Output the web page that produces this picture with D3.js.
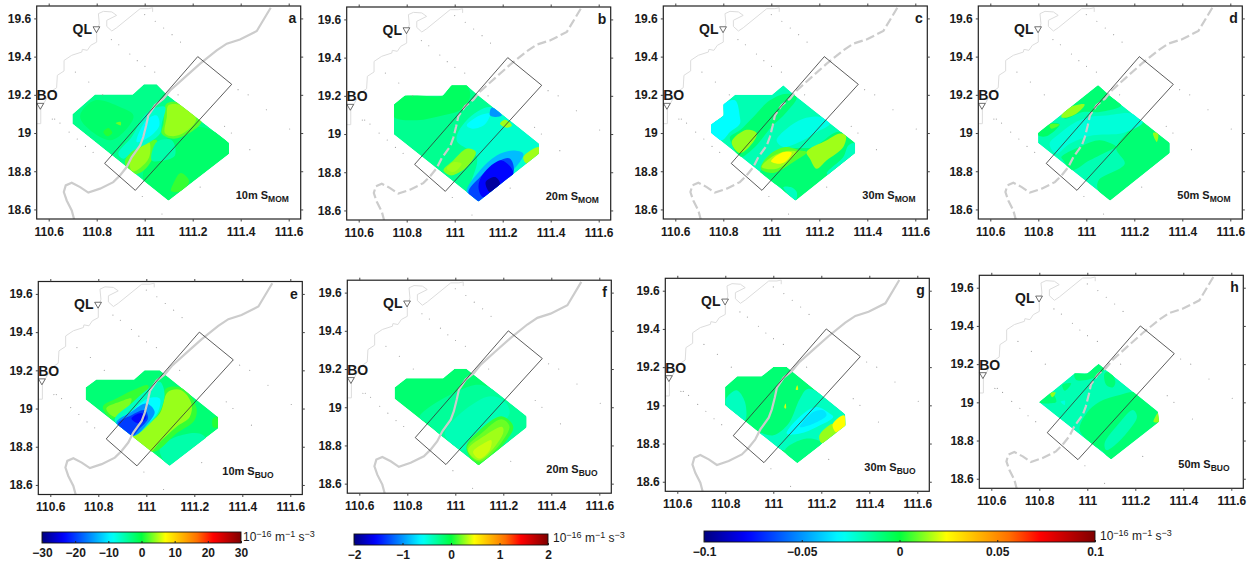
<!DOCTYPE html>
<html>
<head>
<meta charset="utf-8">
<script src="https://cdn.jsdelivr.net/npm/d3@7"></script>
<style>
  html, body { margin: 0; padding: 0; background: #fff; }
  text { font-family: "Liberation Sans", Arial, sans-serif; fill: #1a1a1a; }
</style>
</head>
<body>
<div id="chart"></div>
<script>
// map ticks
var lonTicks = [110.6, 110.8, 111, 111.2, 111.4, 111.6];
var latTicks = [18.6, 18.8, 19, 19.2, 19.4, 19.6];

// colour bar ticks, one list per bar
var barTicks1 = [-30, -20, -10, 0, 10, 20, 30];
var barTicks2 = [-2, -1, 0, 1, 2];
var barTicks3 = [-0.1, -0.05, 0, 0.05, 0.1];

// shared map features, lon / lat
var thickCoast = [[111.525,19.656],[111.467,19.534],[111.397,19.49],[111.342,19.468],[111.3,19.433],[111.231,19.363],[111.168,19.293],[111.106,19.223],[111.078,19.18],[111.043,19.145],[111.015,19.092],[111.006,19.04],[110.994,18.979],[110.981,18.935],[110.946,18.874],[110.925,18.822],[110.897,18.778],[110.869,18.743],[110.814,18.709],[110.765,18.688],[110.731,18.717],[110.696,18.74],[110.671,18.726],[110.663,18.691],[110.675,18.647],[110.696,18.595],[110.706,18.548]];
var thinCoast = [[110.547,19.049],[110.567,19.049],[110.567,19.127],[110.606,19.215],[110.633,19.237],[110.636,19.302],[110.664,19.325],[110.664,19.38],[110.696,19.407],[110.738,19.424],[110.74,19.438],[110.761,19.433],[110.775,19.459],[110.8,19.476],[110.8,19.529],[110.811,19.572],[110.807,19.625],[110.828,19.637],[110.863,19.634],[110.883,19.616],[110.842,19.59],[110.842,19.558],[110.863,19.534],[110.883,19.551],[110.981,19.651],[111.015,19.651],[111.033,19.656],[111.033,19.634]];
var boxCorners = [[111.221,19.4],[111.3625,19.255],[110.961,18.7],[110.833,18.841]];
var gridDots = [[111,19.62],[111.044,19.585],[111.079,19.55],[111.114,19.515],[111.149,19.476],[110.861,19.489],[110.892,19.462],[110.938,19.414],[110.969,19.379],[111.001,19.349],[111.042,19.319],[110.711,19.319],[110.767,19.267],[110.825,19.2],[111.139,19.2],[111.389,19.227],[111.431,19.2],[111.507,19.122],[110.615,19.073],[110.625,19.073],[110.647,19.052],[110.685,19.005],[110.719,18.969],[110.753,18.93],[110.785,18.899],[111.333,19.035],[111.361,19],[111.438,18.913],[111.604,19.021],[110.99,18.668],[111.072,18.576],[111.231,18.717]];
var stations = [["QL",110.799,19.546],["BO",110.565,19.145]];

// sampled area of each panel, lon / lat
var footA = [[110.699,19.098],[110.793,19.202],[110.95,19.202],[110.997,19.255],[111.05,19.255],[111.092,19.202],[111.351,18.949],[111.351,18.892],[111.099,18.647],[110.699,19.049]];
var footB = [[110.747,19.155],[110.793,19.202],[110.95,19.202],[110.987,19.255],[111.05,19.255],[111.099,19.202],[111.351,18.949],[111.351,18.897],[111.099,18.647],[110.747,18.997]];
var footC = [[110.749,19.045],[110.8,19.092],[110.8,19.15],[110.849,19.201],[111.003,19.201],[111.05,19.25],[111.099,19.197],[111.349,18.948],[111.349,18.895],[111.101,18.647],[110.749,19]];
var footD = [[110.799,19],[111.049,19.25],[111.097,19.197],[111.347,18.948],[111.347,18.895],[111.099,18.647],[110.799,18.948]];
var footE = [[110.747,19.11],[110.792,19.152],[110.949,19.152],[110.993,19.201],[111.056,19.201],[111.299,18.956],[111.299,18.895],[111.097,18.7],[110.747,19.047]];
var footF = [[110.747,19.103],[110.796,19.152],[110.949,19.152],[110.997,19.202],[111.046,19.202],[111.296,18.953],[111.296,18.894],[111.097,18.696],[110.747,19.045]];
var footG = [[110.799,19.096],[110.85,19.152],[110.951,19.152],[111,19.201],[111.056,19.201],[111.299,18.953],[111.301,18.895],[111.1,18.698],[110.799,19]];
var footH = [[110.799,19],[110.947,19.152],[111,19.152],[111.047,19.201],[111.294,18.951],[111.299,18.899],[111.099,18.702]];

// background level of each panel
var baseLevels = [-3.5, -0.25, -0.018, -0.018, -2.5, -0.15, -0.008, -0.018];

// contour patches: [level, [lon, lat]...], painted in order
var patchesA = [
  [-2, [[110.793,19.171],[110.897,19.136],[110.953,19.092],[110.925,19.023],[110.856,18.962],[110.758,19.031],[110.731,19.092]]],
  [-2, [[111.05,18.927],[111.231,19.031],[111.351,18.944],[111.351,18.892],[111.099,18.647],[110.994,18.752]]],
  [2.5, [[111.092,19.154],[111.161,19.154],[111.238,19.066],[111.182,18.997],[111.119,18.97],[111.071,18.997],[111.078,19.049]]],
  [4.3, [[111.099,19.145],[111.154,19.145],[111.214,19.072],[111.168,19.005],[111.119,18.983],[111.085,18.997],[111.092,19.084]]],
  [2.5, [[110.918,18.853],[110.96,18.918],[111.05,18.962],[111.029,18.857],[110.987,18.796],[110.939,18.787]]],
  [4.3, [[110.936,18.86],[110.969,18.909],[111.018,18.953],[111.019,18.874],[110.981,18.817],[110.949,18.799]]],
  [-6.5, [[110.89,18.892],[110.946,18.979],[110.994,19.084],[111.036,19.127],[111.085,19.136],[111.071,19.049],[111.064,18.997],[111.022,18.953],[110.953,18.909],[110.911,18.866]]],
  [-9, [[110.967,18.953],[111.006,19.066],[111.05,19.092],[111.061,19.04],[111.015,18.976]]],
  [-5, [[111.05,18.953],[111.113,18.962],[111.126,18.883],[111.064,18.853],[111.029,18.857]]],
  [1, [[110.828,19.005],[110.849,19.026],[110.865,19],[110.844,18.983]]],
  [3, [[110.879,19.052],[110.9,19.058],[110.9,19.04]]],
  [1.5, [[111.11,18.696],[111.119,18.735],[111.15,18.791],[111.185,18.749],[111.154,18.696]]]
];
var patchesB = [
  [-0.1, [[110.747,19.155],[110.793,19.202],[110.95,19.202],[110.987,19.255],[111.05,19.255],[111.064,19.194],[111.022,19.124],[110.953,19.098],[110.842,19.072],[110.747,19.089]]],
  [-0.45, [[111.008,18.967],[111.05,19.072],[111.147,19.141],[111.231,19.072],[111.351,18.949],[111.351,18.897],[111.231,18.775],[111.099,18.647],[111.064,18.705],[111.092,18.88]]],
  [0.25, [[110.953,18.81],[110.994,18.862],[111.05,18.923],[111.088,18.906],[111.05,18.827],[111.008,18.792],[110.981,18.784]]],
  [0.3, [[110.967,18.819],[110.997,18.853],[111.029,18.845],[110.994,18.801]]],
  [-0.6, [[111.05,19.045],[111.106,19.098],[111.147,19.106],[111.126,19.051],[111.078,19.028]]],
  [-1, [[111.147,19.098],[111.154,19.138],[111.196,19.098],[111.168,19.089]]],
  [0.3, [[111.189,19.054],[111.21,19.075],[111.238,19.045],[111.217,19.033]]],
  [0.3, [[111.286,18.88],[111.351,18.932],[111.351,18.897],[111.3,18.845]]],
  [-0.85, [[111.05,18.696],[111.106,18.81],[111.175,18.888],[111.244,18.914],[111.286,18.897],[111.244,18.81],[111.099,18.647]]],
  [-1.3, [[111.057,18.693],[111.106,18.775],[111.189,18.862],[111.231,18.871],[111.244,18.792],[111.099,18.647]]],
  [-1.55, [[111.099,18.723],[111.119,18.792],[111.196,18.862],[111.244,18.792],[111.119,18.67]]],
  [-1.9, [[111.129,18.749],[111.168,18.775],[111.189,18.74],[111.147,18.696]]]
];
var patchesC = [
  [-0.03, [[110.749,19.045],[110.8,19.092],[110.8,19.15],[110.849,19.171],[110.869,19.084],[110.869,19.049],[110.828,19.005],[110.793,18.962],[110.749,19]]],
  [-0.008, [[110.828,18.979],[110.869,19.014],[110.925,19.084],[110.994,19.171],[111.064,19.206],[111.106,19.188],[111.064,19.11],[110.994,19.023],[110.932,18.927],[110.869,18.874],[110.835,18.944]]],
  [-0.008, [[110.953,18.787],[111.008,18.874],[111.078,18.918],[111.175,18.927],[111.272,19.005],[111.314,18.997],[111.349,18.944],[111.349,18.895],[111.101,18.647],[111.036,18.717]]],
  [-0.02, [[111.05,18.717],[111.101,18.647],[111.106,18.691],[111.081,18.717]]],
  [-0.02, [[111.349,18.948],[111.349,18.895],[111.25,18.77],[111.231,18.787],[111.3,18.874],[111.321,18.935]]],
  [-0.026, [[111.022,18.962],[111.064,19.023],[111.133,19.075],[111.203,19.084],[111.244,19.049],[111.189,19.005],[111.133,18.962],[111.05,18.927]]],
  [0.014, [[110.835,18.953],[110.897,19.017],[110.939,19],[110.925,18.953],[110.869,18.895]]],
  [0.008, [[110.956,18.813],[110.989,18.883],[111.058,18.927],[111.121,18.909],[111.149,18.901],[111.092,18.848],[111.008,18.791]]],
  [0.015, [[110.96,18.822],[111.001,18.874],[111.064,18.906],[111.106,18.901],[111.078,18.86],[111.022,18.813]]],
  [0.024, [[110.999,18.852],[111.043,18.897],[111.085,18.897],[111.057,18.848],[111.029,18.839]]],
  [0.015, [[111.147,18.901],[111.231,18.962],[111.286,18.997],[111.31,18.988],[111.3,18.927],[111.231,18.857],[111.189,18.813],[111.161,18.866]]]
];
var patchesD = [
  [-0.008, [[110.903,19.101],[111.049,19.25],[111.097,19.197],[111.146,19.145],[111.056,19.11],[110.986,19.11],[110.91,19.075]]],
  [0.014, [[110.896,19.084],[110.917,19.127],[110.993,19.15],[110.958,19.101],[110.91,19.08]]],
  [-0.006, [[110.799,19],[110.847,19.049],[110.889,19.045],[110.833,18.983],[110.799,18.988]]],
  [0.008, [[110.847,19.045],[110.889,19.045],[110.854,19.023]]],
  [-0.008, [[111.167,18.997],[111.222,19.075],[111.347,18.948],[111.347,18.895],[111.099,18.647],[111.049,18.7],[111.051,18.752],[111.16,18.839],[111.125,18.918]]],
  [-0.008, [[110.896,18.874],[110.986,18.935],[111.056,18.962],[111.125,18.927],[111.097,18.909],[111.014,18.857],[110.939,18.805],[110.904,18.857]]],
  [-0.024, [[110.847,18.944],[110.889,18.997],[110.944,19.049],[111.014,19.084],[111.083,19.092],[111.194,19.101],[111.236,19.058],[111.153,19],[111.028,18.988],[110.931,18.944],[110.875,18.892]]],
  [0.014, [[111.278,19],[111.299,18.997],[111.294,18.953]]]
];
var patchesE = [
  [-5, [[111.056,18.79],[111.125,18.852],[111.222,18.869],[111.25,18.834],[111.097,18.7]]],
  [1.5, [[110.819,19.009],[110.875,19.052],[110.944,19.096],[111.007,19.122],[111,19.07],[110.944,19.009],[110.896,18.965],[110.854,18.948]]],
  [3.5, [[110.833,19],[110.889,19.035],[110.938,19.052],[110.917,18.991],[110.868,18.956]]],
  [1.5, [[110.944,18.857],[111.056,18.991],[111.083,19.105],[111.153,19.105],[111.208,19.009],[111.201,18.939],[111.125,18.869],[111.028,18.773]]],
  [4.3, [[110.944,18.857],[111,18.913],[111.056,18.974],[111.09,19.087],[111.146,19.096],[111.188,19.026],[111.181,18.956],[111.125,18.904],[111.056,18.825],[111.014,18.773]]],
  [1, [[111.278,18.948],[111.299,18.956],[111.299,18.901],[111.278,18.904]]],
  [-6, [[110.868,18.939],[110.938,19.026],[111,19.096],[111.056,19.14],[111.076,19.079],[111.056,18.983],[111,18.904],[110.944,18.857]]],
  [-9, [[110.889,18.939],[110.944,18.991],[111.007,19.052],[111.056,19.052],[111.049,18.983],[111,18.913],[110.944,18.86]]],
  [-15, [[110.875,18.925],[110.938,18.983],[111,19.026],[111.035,18.983],[111,18.913],[110.944,18.857]]],
  [-20, [[110.882,18.921],[110.938,18.965],[110.993,18.991],[111.007,18.948],[110.972,18.895],[110.942,18.857]]],
  [-23, [[110.938,18.948],[110.979,18.977],[111,18.956],[110.972,18.921]]]
];
var patchesF = [
  [-0.28, [[110.851,18.949],[111.018,19.089],[111.115,19.115],[111.296,18.953],[111.296,18.894],[111.097,18.696],[110.886,18.914]]],
  [-0.37, [[110.956,18.862],[111.129,19.054],[111.199,19.037],[111.226,18.967],[111.06,18.792],[111.032,18.775]]],
  [0.1, [[111.046,18.792],[111.101,18.88],[111.192,18.953],[111.24,18.906],[111.233,18.862],[111.097,18.696]]],
  [0.2, [[111.049,18.784],[111.108,18.862],[111.192,18.937],[111.226,18.897],[111.101,18.714]]],
  [0.3, [[111.053,18.775],[111.115,18.845],[111.196,18.897],[111.199,18.862],[111.101,18.723]]],
  [0.38, [[111.074,18.766],[111.129,18.818],[111.15,18.827],[111.143,18.775],[111.101,18.731]]]
];
var patchesG = [
  [-0.02, [[110.803,19],[110.803,19.035],[110.847,19.079],[110.882,19.017],[110.882,18.921],[110.84,18.956]]],
  [-0.02, [[110.944,18.855],[111,18.843],[111.063,18.904],[111.111,19.035],[111.146,19.087],[111.299,18.953],[111.301,18.895],[111.201,18.803],[111.139,18.822],[111.049,18.764]]],
  [-0.01, [[111.049,18.764],[111.139,18.826],[111.201,18.803],[111.1,18.698]]],
  [-0.03, [[111.056,18.852],[111.125,18.956],[111.181,18.991],[111.236,18.956],[111.25,18.939],[111.181,18.887],[111.111,18.852]]],
  [-0.035, [[111.111,18.887],[111.167,18.965],[111.208,18.974],[111.222,18.948],[111.167,18.904]]],
  [0.014, [[111.192,18.843],[111.25,18.904],[111.264,18.86],[111.201,18.803]]],
  [0.024, [[111.247,18.9],[111.294,18.948],[111.301,18.895],[111.264,18.857]]],
  [0.02, [[111.094,19.082],[111.1,19.105],[111.103,19.082]]],
  [0.02, [[111.046,18.988],[111.051,19.009],[111.053,18.983]]]
];
var patchesH = [
  [-0.008, [[110.947,19.152],[111,19.152],[111.047,19.201],[111.072,19.178],[111.038,19.134],[110.954,19.117]]],
  [-0.008, [[111.072,19.152],[111.093,19.161],[111.117,19.108],[111.107,19.079],[111.079,19.091]]],
  [-0.008, [[110.896,19.091],[110.933,19.099],[110.906,19.061]]],
  [-0.008, [[110.799,19],[110.85,19.051],[110.871,19.003],[110.85,18.995]]],
  [0.014, [[110.846,19.047],[110.868,19.051],[110.854,19.026]]],
  [-0.008, [[110.968,18.855],[110.996,18.942],[111.051,19.003],[111.135,19.038],[111.204,19.051],[111.294,18.951],[111.299,18.899],[111.099,18.702],[111.065,18.742],[111.017,18.785]]],
  [-0.018, [[111.072,18.785],[111.121,18.873],[111.19,18.96],[111.207,18.925],[111.163,18.838],[111.107,18.768],[111.079,18.75]]],
  [0.014, [[111.276,18.899],[111.299,18.951],[111.299,18.899]]],
  [-0.025, [[110.889,19.003],[110.906,19.009],[110.906,18.986]]]
];

var letters = ["a", "b", "c", "d", "e", "f", "g", "h"];
var depths = ["10m", "20m", "30m", "50m", "10m", "20m", "30m", "50m"];
var terms = ["MOM", "MOM", "MOM", "MOM", "BUO", "BUO", "BUO", "BUO"];
var limits = [30, 2, 0.1, 0.1, 30, 2, 0.1, 0.1];
var feet = [footA, footB, footC, footD, footE, footF, footG, footH];
var patches = [patchesA, patchesB, patchesC, patchesD, patchesE, patchesF, patchesG, patchesH];

// layout
var frames = [
  {l: 36.7, t: 6, note: 199, dash: false},
  {l: 346.7, t: 7, note: 199, dash: true},
  {l: 663.3, t: 6, note: 199, dash: true},
  {l: 978.3, t: 6, note: 199, dash: true},
  {l: 38.3, t: 281.5, note: 184, dash: false},
  {l: 347.3, t: 280.2, note: 199, dash: false},
  {l: 665.3, t: 278.3, note: 199, dash: false},
  {l: 979.3, t: 275.3, note: 199, dash: true}
];
var frameW = 264, frameH = 213;

var bars = [
  {x0: 42, x1: 241, y: 532, ticks: barTicks1, unitX: 243, unitY: 541},
  {x0: 354, x1: 548, y: 534, ticks: barTicks2, unitX: 553, unitY: 542},
  {x0: 704, x1: 1095, y: 531, ticks: barTicks3, unitX: 1100, unitY: 540}
];

// rainbow used by the paper, t from 0 to 1
var rainbow = d3.scaleLinear()
  .domain([0, 0.11, 0.35, 0.5, 0.62, 0.78, 0.86, 1])
  .range(["#00007f", "#0000ff", "#00ffff", "#00ff40", "#ffff00", "#ff7000", "#ff0000", "#7f0000"]);

var svg = d3.select("#chart").append("svg")
  .attr("width", 1258)
  .attr("height", 562)
  .style("display", "block");

var polyLine = d3.line().curve(d3.curveLinearClosed);
var blobLine = d3.line().curve(d3.curveCatmullRomClosed.alpha(0.5));

frames.forEach(function (f, i) {
  var x = d3.scaleLinear().domain([110.55, 111.65]).range([0, frameW]);
  var y = d3.scaleLinear().domain([18.55, 19.665]).range([frameH, 0]);
  var colour = function (v) { return rainbow((v + limits[i]) / (2 * limits[i])); };
  var project = function (p) { return [x(p[0]), y(p[1])]; };

  var g = svg.append("g").attr("transform", "translate(" + f.l + "," + f.t + ")");

  g.append("clipPath").attr("id", "foot" + i).append("path")
    .attr("d", polyLine(feet[i].map(project)));
  g.append("clipPath").attr("id", "map" + i).append("rect")
    .attr("width", frameW).attr("height", frameH);

  // field
  var field = g.append("g").attr("clip-path", "url(#foot" + i + ")");
  field.append("path")
    .attr("d", polyLine(feet[i].map(project)))
    .attr("fill", colour(baseLevels[i]));
  field.selectAll(".patch").data(patches[i]).enter().append("path")
    .attr("class", "patch")
    .attr("d", function (d) { return blobLine(d[1].map(project)); })
    .attr("fill", function (d) { return colour(d[0]); });

  // map lines
  var lines = g.append("g").attr("clip-path", "url(#map" + i + ")");
  lines.append("path")
    .attr("d", d3.line()(thinCoast.map(project)))
    .attr("fill", "none")
    .attr("stroke", "#dcdcdc")
    .attr("stroke-width", 1);
  lines.append("path")
    .attr("d", d3.line()(thickCoast.map(project)))
    .attr("fill", "none")
    .attr("stroke", "#cccccc")
    .attr("stroke-width", 2.2)
    .attr("stroke-dasharray", f.dash ? "9,3.5" : null);
  lines.selectAll(".dot").data(gridDots).enter().append("circle")
    .attr("class", "dot")
    .attr("cx", function (d) { return x(d[0]); })
    .attr("cy", function (d) { return y(d[1]); })
    .attr("r", 0.55)
    .attr("fill", "#9a9a9a");
  lines.append("path")
    .attr("d", polyLine(boxCorners.map(project)))
    .attr("fill", "none")
    .attr("stroke", "#333")
    .attr("stroke-width", 0.8);

  // stations
  stations.forEach(function (s) {
    g.append("path")
      .attr("d", d3.symbol().type(d3.symbolTriangle).size(20)())
      .attr("transform", "translate(" + x(s[1]) + "," + y(s[2]) + ") rotate(180)")
      .attr("fill", "#fff")
      .attr("stroke", "#333")
      .attr("stroke-width", 0.7);
    var isQL = s[0] === "QL";
    g.append("text")
      .attr("x", x(s[1]) + (isQL ? -4.5 : -3.7))
      .attr("y", y(s[2]) + (isQL ? 5 : -5))
      .attr("text-anchor", isQL ? "end" : "start")
      .style("font-size", "14px")
      .style("font-weight", "bold")
      .text(s[0]);
  });

  // frame and axes
  g.append("rect")
    .attr("width", frameW).attr("height", frameH)
    .attr("fill", "none").attr("stroke", "#222").attr("stroke-width", 1.2);

  var fmt = function (d) { return String(d); };
  var axes = [
    g.append("g").attr("transform", "translate(0," + frameH + ")")
      .call(d3.axisBottom(x).tickValues(lonTicks).tickSize(2.5).tickPadding(5.5).tickFormat(fmt)),
    g.append("g")
      .call(d3.axisLeft(y).tickValues(latTicks).tickSize(2.5).tickPadding(3).tickFormat(fmt)),
    g.append("g")
      .call(d3.axisTop(x).tickValues(lonTicks).tickSize(2.5).tickFormat("")),
    g.append("g").attr("transform", "translate(" + frameW + ",0)")
      .call(d3.axisRight(y).tickValues(latTicks).tickSize(2.5).tickFormat(""))
  ];
  axes.forEach(function (a) {
    a.select(".domain").remove();
    a.selectAll("line").attr("stroke", "#444");
    a.selectAll("text")
      .style("font-family", "\"Liberation Sans\", Arial, sans-serif")
      .style("font-size", "12px")
      .style("font-weight", "bold")
      .attr("fill", "#1a1a1a");
  });

  // panel letter
  g.append("text")
    .attr("x", frameW - 4.5).attr("y", 17)
    .attr("text-anchor", "end")
    .style("font-size", "14px").style("font-weight", "bold")
    .text(letters[i]);

  // depth note
  var note = g.append("text")
    .attr("x", f.note).attr("y", 193)
    .style("font-size", "11px").style("font-weight", "bold");
  note.append("tspan").text(depths[i] + " S");
  note.append("tspan").attr("dy", 3).style("font-size", "8.5px").text(terms[i]);
});

// colour bars
var defs = svg.append("defs");
var grad = defs.append("linearGradient").attr("id", "rainbowGrad");
d3.range(0, 1.001, 0.02).forEach(function (t) {
  grad.append("stop").attr("offset", t).attr("stop-color", rainbow(t));
});

bars.forEach(function (b) {
  var lim = b.ticks[b.ticks.length - 1];
  var s = d3.scaleLinear().domain([-lim, lim]).range([b.x0, b.x1]);
  var g = svg.append("g");
  g.append("rect")
    .attr("x", b.x0).attr("y", b.y)
    .attr("width", b.x1 - b.x0).attr("height", 11)
    .attr("fill", "url(#rainbowGrad)")
    .attr("stroke", "#111").attr("stroke-width", 0.9);
  var ax = g.append("g").attr("transform", "translate(0," + (b.y + 11) + ")")
    .call(d3.axisBottom(s).tickValues(b.ticks).tickSize(-2).tickPadding(5).tickFormat(d3.format("")));
  ax.select(".domain").remove();
  ax.selectAll("line").attr("stroke", "#222");
  ax.selectAll("text")
    .style("font-family", "\"Liberation Sans\", Arial, sans-serif")
    .style("font-size", "12px")
    .style("font-weight", "bold")
    .attr("fill", "#1a1a1a");

  var u = g.append("text")
    .attr("x", b.unitX).attr("y", b.unitY)
    .style("font-size", "12px");
  [["10", 0], ["\u221216", -4], [" m", 4], ["\u22121", -4], [" s", 4], ["\u22123", -4]].forEach(function (part) {
    var sup = part[1] < 0;
    u.append("tspan")
      .attr("dy", part[1])
      .style("font-size", sup ? "9px" : "12px")
      .style("white-space", "pre")
      .text(part[0]);
  });
});
</script>
</body>
</html>
